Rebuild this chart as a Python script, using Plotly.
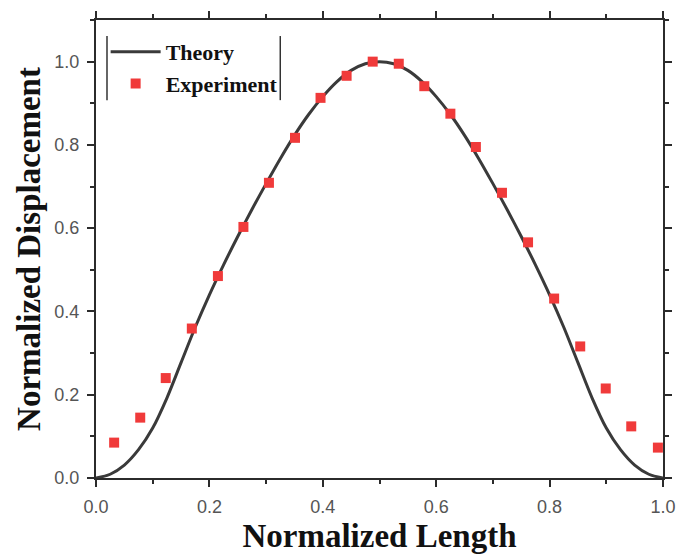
import plotly.graph_objects as go

# Theory curve
theory_x = [0.000, 0.025, 0.050, 0.075, 0.100, 0.125, 0.150, 0.175, 0.200, 0.225,
            0.250, 0.275, 0.300, 0.325, 0.350, 0.375, 0.400, 0.425, 0.450, 0.475,
            0.500, 0.525, 0.550, 0.575, 0.600, 0.625, 0.650, 0.675, 0.700, 0.725,
            0.750, 0.775, 0.800, 0.825, 0.850, 0.875, 0.900, 0.925, 0.950, 0.975, 1.000]
theory_y = [0.000, 0.009, 0.031, 0.068, 0.120, 0.192, 0.277, 0.362, 0.440, 0.512,
            0.580, 0.645, 0.707, 0.767, 0.823, 0.873, 0.916, 0.952, 0.979, 0.995,
            1.000, 0.995, 0.979, 0.952, 0.916, 0.873, 0.823, 0.767, 0.707, 0.645,
            0.580, 0.512, 0.440, 0.362, 0.277, 0.192, 0.120, 0.068, 0.031, 0.009, 0.000]

# Experiment points
exp_x = [0.032, 0.078, 0.123, 0.169, 0.215, 0.260, 0.305, 0.351, 0.396, 0.442, 0.488,
         0.534, 0.579, 0.625, 0.670, 0.716, 0.762, 0.808, 0.854, 0.899, 0.944, 0.991]
exp_y = [0.085, 0.145, 0.240, 0.359, 0.485, 0.603, 0.709, 0.817, 0.913, 0.966, 1.000,
         0.995, 0.941, 0.875, 0.795, 0.685, 0.566, 0.431, 0.316, 0.215, 0.124, 0.073]

x_ticks = [0.0, 0.2, 0.4, 0.6, 0.8, 1.0]
y_ticks = [0.0, 0.2, 0.4, 0.6, 0.8, 1.0]

fig = go.Figure()
fig.add_trace(go.Scatter(x=theory_x, y=theory_y, mode="lines", name="Theory",
                         line=dict(color="#3a3a3a", width=3, shape="spline", smoothing=0.8)))
fig.add_trace(go.Scatter(x=exp_x, y=exp_y, mode="markers", name="Experiment",
                         marker=dict(symbol="square", size=10, color="#F03A3A",
                                     line=dict(width=0))))

axis_common = dict(
    showline=True, linecolor="#2b2b2b", linewidth=2, mirror="ticks",
    ticks="outside", ticklen=7, tickwidth=1.6, tickcolor="#2b2b2b",
    showgrid=False, zeroline=False,
    tickfont=dict(family="Liberation Sans, Arial, sans-serif", size=18, color="#555555"),
    ticklabelstandoff=4,
)

fig.update_xaxes(range=[0, 1.0], tickvals=x_ticks, ticktext=[f"{v:.1f}" for v in x_ticks],
                 minor=dict(dtick=0.1, ticks="outside", ticklen=4, tickwidth=1.6,
                            tickcolor="#2b2b2b"),
                 title=dict(text="Normalized Length", standoff=13,
                            font=dict(family="Liberation Serif, Times New Roman, serif",
                                      size=33, color="#111111", weight="bold")),
                 automargin=False, **axis_common)
fig.update_yaxes(range=[0, 1.1], tickvals=y_ticks, ticktext=[f"{v:.1f}" for v in y_ticks],
                 minor=dict(dtick=0.1, ticks="outside", ticklen=4, tickwidth=1.6,
                            tickcolor="#2b2b2b"),
                 title=dict(text="Normalized Displacement", standoff=4,
                            font=dict(family="Liberation Serif, Times New Roman, serif",
                                      size=33, color="#111111", weight="bold")),
                 automargin=False, **axis_common)

# Origin-style legend frame: only left and right vertical bars
for xp in [0.0194, 0.325]:
    fig.add_shape(type="line", xref="paper", yref="paper", x0=xp, x1=xp, y0=0.825, y1=0.965,
                  line=dict(color="#333333", width=1.5))

fig.update_layout(
    width=678, height=554,
    margin=dict(l=96, r=15, t=20, b=76),
    paper_bgcolor="white", plot_bgcolor="white",
    showlegend=True,
    legend=dict(x=0.017, y=0.976, xanchor="left", yanchor="top",
                bgcolor="rgba(0,0,0,0)", borderwidth=0, itemwidth=50,
                font=dict(family="Liberation Serif, Times New Roman, serif", size=22,
                          color="#111111", weight="bold")),
)

# Remove the browser's default page margin so the figure fills the window exactly.
fig.write_html("out.html", config={"displayModeBar": False},
               post_script="document.body.style.margin='0';document.body.style.overflow='hidden';")
